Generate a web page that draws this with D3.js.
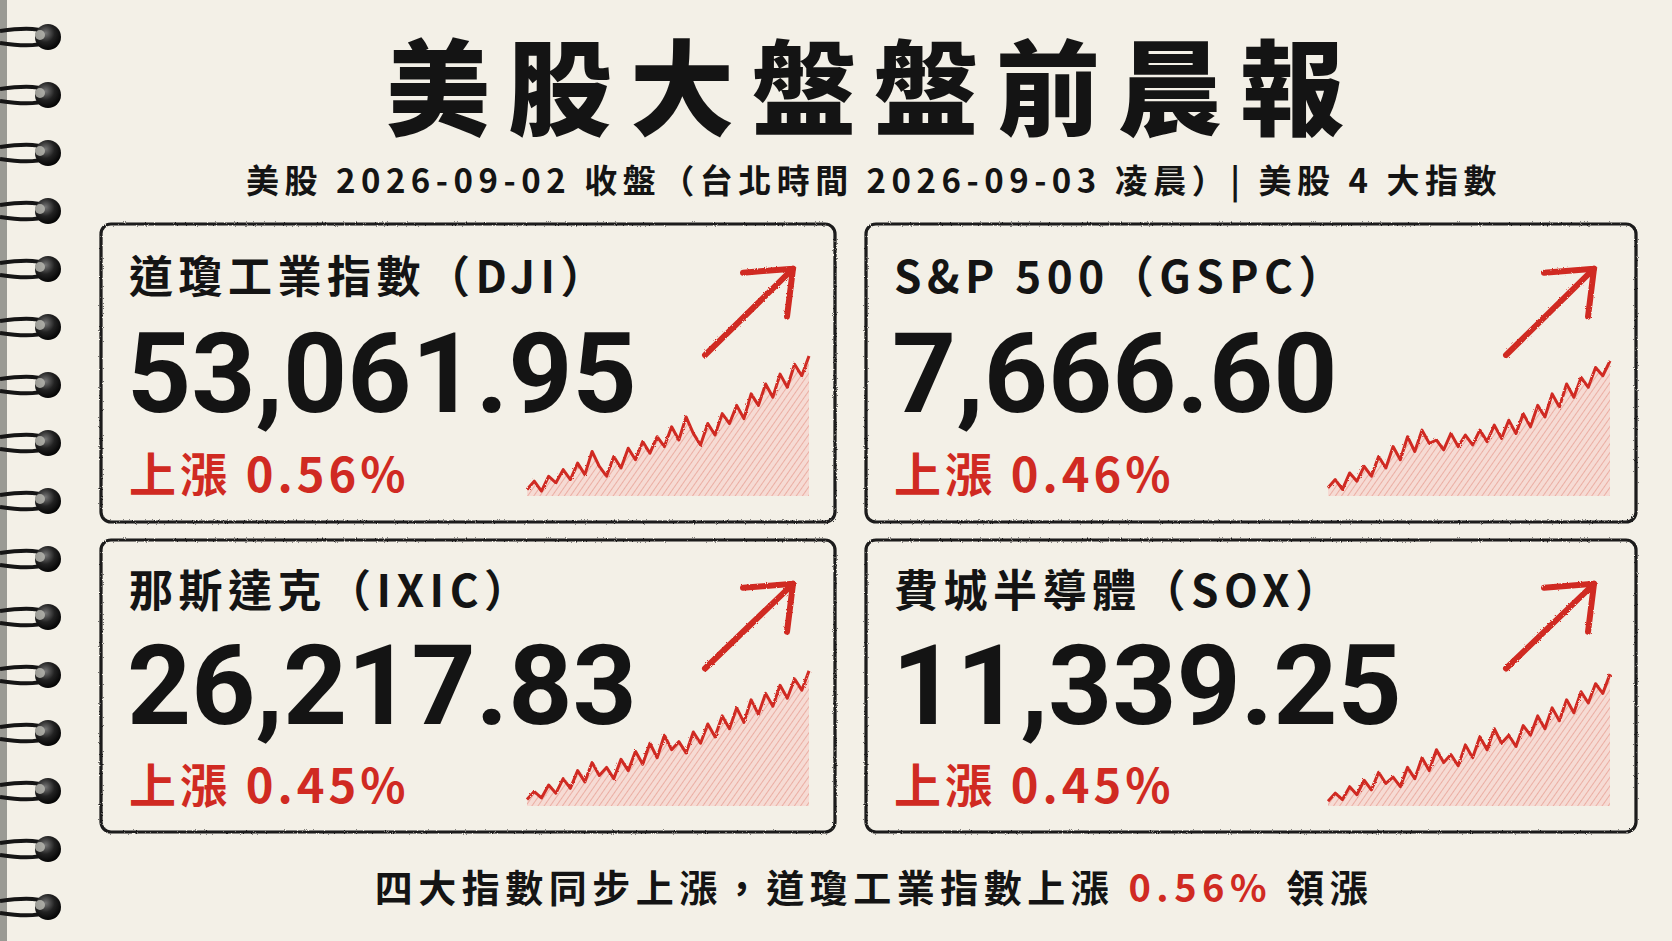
<!DOCTYPE html>
<html><head><meta charset="utf-8">
<script src="https://cdn.jsdelivr.net/npm/d3@7"></script>
<style>html,body{margin:0;padding:0;background:#f3f0e7;}svg{display:block}</style>
</head><body><svg id="c" width="1672" height="941"></svg>
<script>
const title = "美股大盤盤前晨報";
const subtitle = "美股 2026-09-02 收盤（台北時間 2026-09-03 凌晨）| 美股 4 大指數";
const footerParts = ["四大指數同步上漲，道瓊工業指數上漲 ", "0.56%", " 領漲"];
const names = ["道瓊工業指數（DJI）", "S&P 500（GSPC）", "那斯達克（IXIC）", "費城半導體（SOX）"];
const closes = ["53,061.95", "7,666.60", "26,217.83", "11,339.25"];
const changes = ["上漲 0.56%", "上漲 0.46%", "上漲 0.45%", "上漲 0.45%"];
const spark1 = [4,9,3,12,8,16,10,20,13,27,18,12,24,17,29,22,33,26,36,30,42,34,48,38,31,44,37,50,44,55,47,62,55,68,60,74,66,80,73,85];
const spark2 = [5,10,4,14,9,18,12,24,17,30,22,36,27,40,32,34,28,38,30,37,31,40,33,43,35,46,38,50,42,55,48,62,54,68,60,72,66,78,73,82];
const spark3 = [4,9,5,13,8,17,11,22,15,27,19,24,17,29,22,34,26,39,30,44,35,40,33,46,39,51,43,56,48,61,52,66,57,70,62,75,67,79,72,84];
const spark4 = [3,8,4,12,7,16,10,21,14,18,12,24,17,30,22,35,27,32,25,38,30,43,35,48,39,44,37,50,44,56,48,61,53,66,58,71,64,76,70,82];
const sparks = [spark1, spark2, spark3, spark4];

const svg = d3.select("#c");
const W = 1672, H = 941;
const red = "#d02a22", ink = "#141414";
const defs = svg.append("defs");
const f = defs.append("filter").attr("id","rough").attr("x","-5%").attr("y","-5%").attr("width","110%").attr("height","110%");
f.append("feTurbulence").attr("type","fractalNoise").attr("baseFrequency",0.9).attr("numOctaves",2).attr("result","n");
f.append("feDisplacementMap").attr("in","SourceGraphic").attr("in2","n").attr("scale",2.5);
const pat = defs.append("pattern").attr("id","hatch").attr("patternUnits","userSpaceOnUse").attr("width",5).attr("height",5).attr("patternTransform","rotate(35)");
pat.append("rect").attr("width",5).attr("height",5).attr("fill","#f6d9d2");
pat.append("line").attr("x1",0).attr("y1",0).attr("x2",0).attr("y2",5).attr("stroke","#e79a8e").attr("stroke-width",1.6);
const rg = defs.append("radialGradient").attr("id","ring").attr("cx","0.4").attr("cy","0.35").attr("r","0.7");
rg.append("stop").attr("offset","0").attr("stop-color","#777");
rg.append("stop").attr("offset","0.5").attr("stop-color","#222");
rg.append("stop").attr("offset","1").attr("stop-color","#000");

svg.append("rect").attr("width",W).attr("height",H).attr("fill","#f3f0e7");
svg.append("rect").attr("x",0).attr("y",0).attr("width",7).attr("height",H).attr("fill","#9a9a94");
const ringYs = d3.range(16).map(i => 37 + i*58);
const rings = svg.append("g").selectAll("g").data(ringYs).join("g").attr("transform", d => `translate(0,${d})`);
rings.append("path").attr("d","M0,-6 C20,-9 38,-9 46,-5").attr("fill","none").attr("stroke","#151515").attr("stroke-width",4);
rings.append("path").attr("d","M0,6 C20,9 38,9 46,5").attr("fill","none").attr("stroke","#151515").attr("stroke-width",4);
rings.append("circle").attr("cx",48).attr("cy",0).attr("r",13).attr("fill","url(#ring)");
rings.append("circle").attr("cx",40).attr("cy",-2).attr("r",5).attr("fill","#bdbdb5").attr("opacity",0.8);

svg.append("text").attr("x",874).attr("y",128).attr("text-anchor","middle")
  .attr("font-family","Noto Sans CJK TC").attr("font-weight",900).attr("font-size",104).attr("letter-spacing",18).attr("fill",ink).text(title);
svg.append("text").attr("x",874).attr("y",193).attr("text-anchor","middle")
  .attr("font-family","Noto Sans CJK TC").attr("font-weight",700).attr("font-size",33).attr("letter-spacing",5.5).attr("fill",ink).text(subtitle);

const cards = [
  {x:101,y:224,w:734,h:298},{x:866,y:224,w:770,h:298},
  {x:101,y:540,w:734,h:292},{x:866,y:540,w:770,h:292}
];
cards.forEach((c,i) => {
  const g = svg.append("g").attr("transform",`translate(${c.x},${c.y})`);
  g.append("rect").attr("width",c.w).attr("height",c.h).attr("rx",10).attr("fill","none")
    .attr("stroke","#1a1a1a").attr("stroke-width",3.2).attr("filter","url(#rough)");
  g.append("text").attr("x",28).attr("y",c.h*0.23).attr("font-family","Noto Sans CJK TC").attr("font-weight",700)
    .attr("font-size",44).attr("letter-spacing",5.5).attr("fill",ink).text(names[i]);
  g.append("text").attr("x",26).attr("y",c.h*0.63).attr("font-family","Roboto").attr("font-weight",700)
    .attr("font-size",112).attr("fill",ink).text(closes[i]);
  g.append("text").attr("x",28).attr("y",c.h*0.9).attr("font-family","Noto Sans CJK TC").attr("font-weight",700)
    .attr("font-size",47).attr("letter-spacing",4).attr("fill",red).text(changes[i]);
  const data = sparks[i];
  const x0 = c.w - 308, x1 = c.w - 26;
  const x = d3.scaleLinear().domain([0,data.length-1]).range([x0,x1]);
  const y = d3.scaleLinear().domain([0,100]).range([c.h-26, c.h*0.36]);
  const area = d3.area().x((d,j)=>x(j)).y0(c.h-26).y1(d=>y(d));
  const line = d3.line().x((d,j)=>x(j)).y(d=>y(d));
  g.append("path").datum(data).attr("d",area).attr("fill","url(#hatch)").attr("opacity",0.9);
  g.append("path").datum(data).attr("d",line).attr("fill","none").attr("stroke",red).attr("stroke-width",3).attr("stroke-linejoin","round").attr("filter","url(#rough)");
  const ax0 = c.w - 130, ay0 = c.h*0.44, ax1 = c.w - 42, ay1 = c.h*0.15;
  g.append("line").attr("x1",ax0).attr("y1",ay0).attr("x2",ax1).attr("y2",ay1).attr("stroke",red).attr("stroke-width",6).attr("stroke-linecap","round").attr("filter","url(#rough)");
  g.append("path").attr("d",`M${ax1-50},${ay1+4} L${ax1},${ay1} L${ax1-6},${ay1+48}`).attr("fill","none").attr("stroke",red).attr("stroke-width",6).attr("stroke-linecap","round").attr("stroke-linejoin","round").attr("filter","url(#rough)");
});

const ft = svg.append("text").attr("x",874).attr("y",902).attr("text-anchor","middle")
  .attr("font-family","Noto Sans CJK TC").attr("font-weight",700).attr("font-size",38).attr("letter-spacing",5.5).attr("fill",ink);
ft.selectAll("tspan").data(footerParts).join("tspan").attr("fill",(d,i)=>i===1?red:ink).text(d=>d);
</script></body></html>
